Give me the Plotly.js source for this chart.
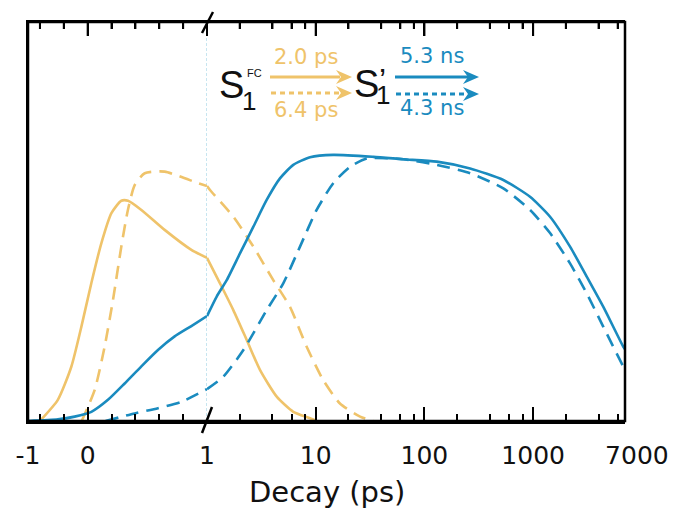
<!DOCTYPE html>
<html>
<head>
<meta charset="utf-8">
<script src="https://cdn.plot.ly/plotly-3.0.1.min.js"></script>
<style>html,body{margin:0;padding:0;background:#fff;}#chart{width:678px;height:514px;}</style>
</head>
<body>
<div id="chart"></div>
<script>
// ---- Data (time in ps, normalized intensity) ----
const timeYellowSolid = [-0.40, -0.25, -0.137, -0.053, 0.031, 0.115, 0.199, 0.282, 0.338, 0.45, 0.645, 0.869, 1.0, 1.317, 1.746, 2.32, 3.07, 4.38, 6.22, 8.87, 10.2];
const valYellowSolid  = [0, 0.053, 0.136, 0.236, 0.346, 0.446, 0.521, 0.552, 0.552, 0.529, 0.479, 0.429, 0.409, 0.345, 0.278, 0.203, 0.128, 0.061, 0.023, 0.007, 0];

const timeYellowDash = [-0.05, 0.059, 0.142, 0.212, 0.282, 0.338, 0.394, 0.478, 0.645, 0.925, 1.0, 1.066, 1.746, 2.67, 4.07, 5.80, 8.26, 11.7, 16.7, 25.6, 33.9];
const valYellowDash  = [0, 0.078, 0.186, 0.303, 0.437, 0.530, 0.591, 0.621, 0.625, 0.596, 0.589, 0.579, 0.512, 0.437, 0.353, 0.286, 0.186, 0.103, 0.044, 0.011, 0];

const timeBlueSolid = [-0.5, -0.25, -0.109, 0.031, 0.17, 0.31, 0.45, 0.589, 0.729, 0.869, 1.0, 1.228, 1.518, 2.01, 2.67, 3.54, 4.69, 6.22, 8.87, 14.5, 33.9, 64, 130, 263, 532, 936, 1431, 2185, 3111, 4425, 6758, 7000];
const valBlueSolid  = [0, 0.004, 0.011, 0.023, 0.053, 0.094, 0.137, 0.178, 0.212, 0.238, 0.263, 0.312, 0.353, 0.420, 0.487, 0.554, 0.608, 0.642, 0.661, 0.667, 0.662, 0.656, 0.650, 0.633, 0.604, 0.562, 0.512, 0.437, 0.362, 0.286, 0.186, 0.180];

const timeBlueDash = [0.15, 0.394, 0.589, 0.785, 1.0, 1.413, 2.16, 3.54, 5.03, 7.17, 10.2, 14.5, 20.7, 29.5, 64, 130, 263, 532, 936, 1431, 2185, 3111, 4425, 6758, 7000];
const valBlueDash  = [0, 0.019, 0.032, 0.048, 0.080, 0.111, 0.178, 0.278, 0.345, 0.437, 0.529, 0.596, 0.637, 0.658, 0.656, 0.642, 0.621, 0.583, 0.529, 0.471, 0.395, 0.320, 0.236, 0.136, 0.128];

const linTickVals = [-0.5, 0];
const linTickText = ['-1', '0'];
const linMinorVals = [-0.4, -0.2, 0.2, 0.4, 0.6, 0.8];
const logTickVals = [1, 10, 100, 1000, 7000];
const logTickText = ['1', '10', '100', '1000', '\u00a0\u00a0\u00a07000'];
const logMinorVals = [2, 4, 6, 8, 20, 40, 60, 80, 200, 400, 600, 800, 2000, 4000, 6000];

const yellow = '#EFC36A';
const blue = '#1A8BBF';
const FONT = 'DejaVu Sans, Verdana, sans-serif';
const SFONT = 'Liberation Sans, Arial, Helvetica, sans-serif';

// pixel -> paper helpers for decorations
const L = 28, R = 625, T = 22, B = 421;
const P = px => (px - L) / (R - L);
const Q = py => (B - py) / (B - T);
const split1 = P(207);

function split(t, v) {
  const lin = {x: [], y: []}, lg = {x: [], y: []};
  t.forEach((ti, i) => {
    if (ti <= 1) { lin.x.push(ti); lin.y.push(v[i]); }
    if (ti >= 1) { lg.x.push(ti); lg.y.push(v[i]); }
  });
  return [lin, lg];
}

const traces = [];
function addSeries(t, v, color, dash) {
  const [lin, lg] = split(t, v);
  const line = {color: color, width: 2.6, dash: dash, shape: 'spline', smoothing: 0.6};
  traces.push({x: lin.x, y: lin.y, xaxis: 'x', yaxis: 'y', mode: 'lines', line: line, hoverinfo: 'skip', showlegend: false});
  traces.push({x: lg.x, y: lg.y, xaxis: 'x2', yaxis: 'y', mode: 'lines', line: line, hoverinfo: 'skip', showlegend: false});
}
addSeries(timeYellowDash, valYellowDash, yellow, '13px,8px');
addSeries(timeYellowSolid, valYellowSolid, yellow, 'solid');
addSeries(timeBlueDash, valBlueDash, blue, '13px,8px');
addSeries(timeBlueSolid, valBlueSolid, blue, 'solid');

// top-edge tick marks, mirrored from the tick arrays, drawn as segments on each axis
function tickSegments(majors, minors, axis) {
  const x = [], y = [];
  const majLen = 14 / (B - T), minLen = 7 / (B - T);
  majors.forEach(v => { x.push(v, v, null); y.push(0.999, 1 - majLen, null); });
  minors.forEach(v => { x.push(v, v, null); y.push(0.999, 1 - minLen, null); });
  return {x: x, y: y, xaxis: axis, yaxis: 'y', mode: 'lines', line: {color: '#000', width: 2}, connectgaps: false, hoverinfo: 'skip', showlegend: false};
}
traces.push(tickSegments(linTickVals.concat([1]), linMinorVals, 'x'));
traces.push(tickSegments(logTickVals, logMinorVals, 'x2'));

const tickFont = {family: FONT, size: 25, color: '#111'};
const common = {
  ticks: 'inside', ticklen: 14, tickwidth: 2, tickcolor: '#000',
  showline: true, linewidth: 2.5, linecolor: '#000', mirror: 'allticks',
  showgrid: false, zeroline: false,
  tickfont: tickFont, ticklabelstandoff: 10, fixedrange: true
};
const minorStyle = {tickmode: 'array', ticks: 'inside', ticklen: 7, tickwidth: 2, tickcolor: '#000'};

const layout = {
  width: 678, height: 514,
  margin: {l: L, r: 678 - R, t: T, b: 514 - B},
  paper_bgcolor: '#fff', plot_bgcolor: '#fff',
  showlegend: false,
  xaxis: Object.assign({}, common, {domain: [0, split1], range: [-0.5, 1], type: 'linear', tickmode: 'array', tickvals: linTickVals, ticktext: linTickText,
    minor: Object.assign({tickvals: linMinorVals}, minorStyle), anchor: 'y'}),
  xaxis2: Object.assign({}, common, {domain: [split1, 1], range: [0, Math.log10(7000)], type: 'log', tickmode: 'array', tickvals: logTickVals, ticktext: logTickText,
    minor: Object.assign({tickvals: logMinorVals}, minorStyle), anchor: 'y'}),
  yaxis: {range: [0, 1], showticklabels: false, ticks: '', showgrid: false, zeroline: false, showline: true, linewidth: 2.5, linecolor: '#000', mirror: false, fixedrange: true},
  shapes: [
    // frame
    {type: 'rect', xref: 'paper', yref: 'paper', x0: 0, x1: 1, y0: 0, y1: 1, line: {color: '#000', width: 2.5}, fillcolor: 'rgba(0,0,0,0)', layer: 'above'},
    // dotted line at t = 1
    {type: 'line', xref: 'x', yref: 'paper', x0: 1, x1: 1, y0: 0, y1: 1, line: {color: '#8FCBE0', width: 1, dash: '3px,2px'}, layer: 'below'},
    // axis break slashes
    {type: 'line', xref: 'paper', yref: 'paper', xsizemode: 'pixel', ysizemode: 'pixel', xanchor: split1, yanchor: 1, x0: -5, x1: 6, y0: -11, y1: 10, line: {color: '#000', width: 2.5}},
    {type: 'line', xref: 'paper', yref: 'paper', xsizemode: 'pixel', ysizemode: 'pixel', xanchor: split1, yanchor: 0, x0: -5, x1: 5, y0: -12, y1: 14, line: {color: '#000', width: 2.5}},
    // yellow arrows
    {type: 'line', xref: 'paper', yref: 'paper', x0: P(270), x1: P(340), y0: Q(77), y1: Q(77), line: {color: yellow, width: 3}},
    {type: 'line', xref: 'paper', yref: 'paper', x0: P(271), x1: P(340), y0: Q(93), y1: Q(93), line: {color: yellow, width: 3, dash: '5px,4px'}},
    {type: 'path', xref: 'paper', yref: 'paper', xsizemode: 'pixel', ysizemode: 'pixel', xanchor: P(352), yanchor: Q(77), path: 'M0,0 L-16,7 L-11,0 L-16,-7 Z', fillcolor: yellow, line: {width: 0}},
    {type: 'path', xref: 'paper', yref: 'paper', xsizemode: 'pixel', ysizemode: 'pixel', xanchor: P(352), yanchor: Q(93), path: 'M0,0 L-16,7 L-11,0 L-16,-7 Z', fillcolor: yellow, line: {width: 0}},
    // blue arrows
    {type: 'line', xref: 'paper', yref: 'paper', x0: P(395), x1: P(470), y0: Q(77), y1: Q(77), line: {color: blue, width: 3}},
    {type: 'line', xref: 'paper', yref: 'paper', x0: P(396), x1: P(470), y0: Q(94), y1: Q(94), line: {color: blue, width: 3, dash: '5px,4px'}},
    {type: 'path', xref: 'paper', yref: 'paper', xsizemode: 'pixel', ysizemode: 'pixel', xanchor: P(479), yanchor: Q(77), path: 'M0,0 L-16,7 L-11,0 L-16,-7 Z', fillcolor: blue, line: {width: 0}},
    {type: 'path', xref: 'paper', yref: 'paper', xsizemode: 'pixel', ysizemode: 'pixel', xanchor: P(479), yanchor: Q(94), path: 'M0,0 L-16,7 L-11,0 L-16,-7 Z', fillcolor: blue, line: {width: 0}}
  ],
  annotations: [
    {text: 'Decay (ps)', xref: 'paper', yref: 'paper', x: 0.5, y: Q(492), xanchor: 'center', yanchor: 'middle', showarrow: false, font: {family: FONT, size: 29, color: '#111'}},
    {text: 'S', xref: 'paper', yref: 'paper', x: P(231), y: Q(85), xanchor: 'center', yanchor: 'middle', showarrow: false, font: {family: SFONT, size: 38, color: '#111'}},
    {text: '1', xref: 'paper', yref: 'paper', x: P(248.5), y: Q(101), xanchor: 'center', yanchor: 'middle', showarrow: false, font: {family: SFONT, size: 26, color: '#111'}},
    {text: 'FC', xref: 'paper', yref: 'paper', x: P(254), y: Q(73), xanchor: 'center', yanchor: 'middle', showarrow: false, font: {family: SFONT, size: 11, color: '#111'}},
    {text: 'S', xref: 'paper', yref: 'paper', x: P(366), y: Q(84), xanchor: 'center', yanchor: 'middle', showarrow: false, font: {family: SFONT, size: 38, color: '#111'}},
    {text: '\u2019', xref: 'paper', yref: 'paper', x: P(382), y: Q(80), xanchor: 'center', yanchor: 'middle', showarrow: false, font: {family: SFONT, size: 32, color: '#111'}},
    {text: '1', xref: 'paper', yref: 'paper', x: P(383), y: Q(95), xanchor: 'center', yanchor: 'middle', showarrow: false, font: {family: SFONT, size: 26, color: '#111'}},
    {text: '2.0 ps', xref: 'paper', yref: 'paper', x: P(306), y: Q(57), xanchor: 'center', yanchor: 'middle', showarrow: false, font: {family: FONT, size: 21, color: yellow}},
    {text: '6.4 ps', xref: 'paper', yref: 'paper', x: P(306), y: Q(110), xanchor: 'center', yanchor: 'middle', showarrow: false, font: {family: FONT, size: 21, color: yellow}},
    {text: '5.3 ns', xref: 'paper', yref: 'paper', x: P(432), y: Q(56), xanchor: 'center', yanchor: 'middle', showarrow: false, font: {family: FONT, size: 21, color: blue}},
    {text: '4.3 ns', xref: 'paper', yref: 'paper', x: P(432), y: Q(108.5), xanchor: 'center', yanchor: 'middle', showarrow: false, font: {family: FONT, size: 21, color: blue}}
  ]
};

Plotly.newPlot('chart', traces, layout, {staticPlot: true, displayModeBar: false});
</script>
</body>
</html>
